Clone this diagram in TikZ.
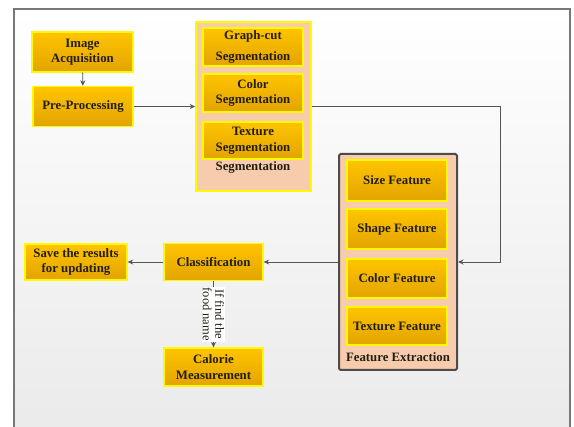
\documentclass[tikz,border=0pt]{standalone}
\usepackage{fontspec}
\setmainfont{Liberation Serif}
\usetikzlibrary{arrows.meta}
\definecolor{goldtop}{RGB}{255,196,0}
\definecolor{goldbot}{RGB}{226,164,0}
\definecolor{boxrim}{RGB}{255,250,0}
\definecolor{peach}{RGB}{247,204,172}
\definecolor{wiregray}{RGB}{85,85,85}
\definecolor{framegray}{RGB}{120,120,120}
\definecolor{inkdark}{RGB}{35,30,20}

\begin{document}
\begin{tikzpicture}[
  x=1pt, y=-1pt,
  stagebox/.style={draw=boxrim, line width=1.3pt, top color=goldtop, bottom color=goldbot, minimum width=100pt, minimum height=38pt, align=center, inner sep=2pt, text=inkdark, font=\bfseries\fontsize{12.8}{15.5}\selectfont},
  groupbox/.style={fill=peach, inner sep=0pt},
  grouptitle/.style={text=inkdark, inner sep=0pt, font=\bfseries\fontsize{12.8}{15.5}\selectfont},
  flow/.style={draw=wiregray, line width=0.9pt, -{Stealth[length=5.5pt, width=5pt]}}
]
  \useasboundingbox (0,0) rectangle (574,427);
  % page frame
  \fill[top color=white, bottom color=black!8] (14,9) rectangle (570,427);
  \draw[framegray, line width=1.5pt] (14,427) -- (14,9) -- (570,9) -- (570,427);

  % segmentation group
  \node[groupbox, draw=boxrim, line width=1.6pt, minimum width=115pt, minimum height=169pt] (segbox) at (253.5,106.5) {};
  \node[stagebox] (graphcut) at (253,47) {Graph-cut\\[6pt]Segmentation};
  \node[stagebox] (colorseg) at (253,93) {Color\\Segmentation};
  \node[stagebox, minimum height=37pt] (texseg) at (253,140.5) {Texture\\Segmentation};
  \node[grouptitle] (segtitle) at (253,167) {Segmentation};

  % feature group
  \node[groupbox, draw=black!70, line width=2pt, rounded corners=1.5pt, minimum width=118pt, minimum height=216pt] (feat) at (398,262) {};
  \node[stagebox, minimum height=41pt] (sizef) at (397,180.5) {Size Feature};
  \node[stagebox, minimum height=40pt] (shapef) at (397,229) {Shape Feature};
  \node[stagebox, minimum height=39pt] (colorf) at (397,278.5) {Color Feature};
  \node[stagebox] (texf) at (397,326) {Texture Feature};
  \node[grouptitle] (feattitle) at (398,357) {Feature Extraction};

  % stages
  \node[stagebox, minimum width=101pt, minimum height=40pt] (acq) at (82.5,52) {Image\\Acquisition};
  \node[stagebox, minimum height=40pt] (pre) at (83,106.5) {Pre-Processing};
  \node[stagebox, minimum width=99pt, minimum height=37pt] (classif) at (213.5,262) {Classification};
  \node[stagebox, minimum width=102pt, minimum height=36pt] (save) at (76,262) {Save the results\\for updating};
  \node[stagebox, minimum width=99pt] (calorie) at (213.5,367) {Calorie\\Measurement};

  % connectors
  \coordinate (turn) at (500,106.5);
  \draw[flow] (acq) -- (pre);
  \draw[flow] (pre) -- (segbox);
  \draw[flow] (segbox.east) -- (turn) |- (feat.east);
  \draw[flow] (feat.west) -- (classif.east);
  \draw[flow] (classif) -- (save);
  \draw[flow] (classif) -- node[fill=white, rotate=-90, align=center, inner sep=1pt, text=inkdark, font=\fontsize{12.5}{12.5}\selectfont] {If find the\\food name} (calorie);
\end{tikzpicture}
\end{document}
